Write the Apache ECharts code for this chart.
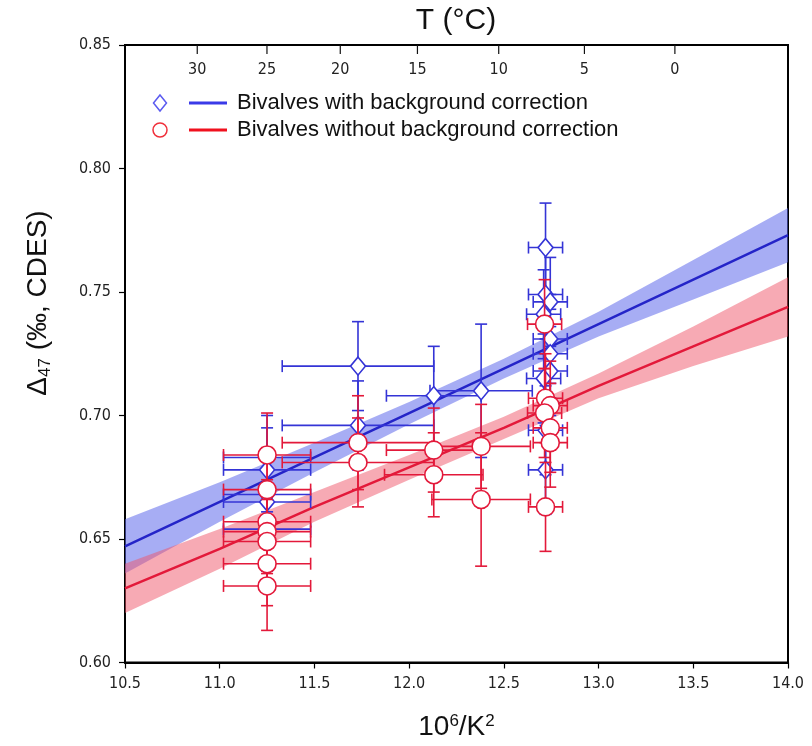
<!DOCTYPE html>
<html><head><meta charset="utf-8">
<script src="https://cdn.jsdelivr.net/npm/echarts@6/dist/echarts.min.js"></script>
<style>html,body{margin:0;padding:0;background:#fff}#c{width:812px;height:746px}</style>
</head><body><div id="c"></div>
<script>
// Top axis: temperature tick labels (°C)
const tempTicks = [30, 25, 20, 15, 10, 5, 0];

// Regression lines and confidence bands
const bandX   = [10.5, 11.0, 11.5, 12.0, 12.5, 13.0, 13.5, 14.0];
const blueFit = [0.647, 0.665, 0.683, 0.701, 0.719, 0.737, 0.755, 0.773];
const blueLo  = [0.636, 0.657, 0.677, 0.6965, 0.715, 0.732, 0.747, 0.762];
const blueHi  = [0.658, 0.673, 0.689, 0.7055, 0.723, 0.742, 0.763, 0.784];
const redFit  = [0.630, 0.646, 0.663, 0.679, 0.695, 0.712, 0.728, 0.744];
const redLo   = [0.620, 0.638, 0.657, 0.674, 0.6905, 0.707, 0.720, 0.732];
const redHi   = [0.640, 0.654, 0.669, 0.684, 0.6995, 0.717, 0.736, 0.756];

// Bivalves with background correction (diamonds)
const blueX    = [11.25, 11.25, 11.25, 11.25, 11.25, 11.73, 11.73, 12.13, 12.38, 12.72, 12.72, 12.745, 12.71, 12.745, 12.745, 12.745, 12.71, 12.72, 12.72];
const blueY    = [0.683, 0.678, 0.668, 0.665, 0.654, 0.720, 0.696, 0.708, 0.710, 0.768, 0.749, 0.746, 0.741, 0.731, 0.725, 0.718, 0.715, 0.694, 0.678];
const blueXErr = [0.23, 0.23, 0.23, 0.23, 0.23, 0.40, 0.40, 0.25, 0.27, 0.09, 0.09, 0.09, 0.09, 0.09, 0.09, 0.09, 0.09, 0.09, 0.09];
const blueYErr = [0.017, 0.017, 0.017, 0.017, 0.017, 0.018, 0.018, 0.020, 0.027, 0.018, 0.018, 0.018, 0.018, 0.018, 0.018, 0.018, 0.018, 0.018, 0.018];

// Bivalves without background correction (circles)
const redX    = [11.25, 11.25, 11.25, 11.25, 11.25, 11.25, 11.25, 11.73, 11.73, 12.13, 12.13, 12.38, 12.38, 12.715, 12.72, 12.745, 12.715, 12.745, 12.745, 12.72];
const redY    = [0.684, 0.670, 0.657, 0.653, 0.649, 0.640, 0.631, 0.689, 0.681, 0.686, 0.676, 0.6875, 0.666, 0.737, 0.707, 0.704, 0.701, 0.695, 0.689, 0.663];
const redXErr = [0.23, 0.23, 0.23, 0.23, 0.23, 0.23, 0.23, 0.40, 0.40, 0.25, 0.26, 0.26, 0.26, 0.09, 0.09, 0.09, 0.09, 0.09, 0.09, 0.09];
const redYErr = [0.017, 0.017, 0.017, 0.017, 0.017, 0.017, 0.018, 0.019, 0.018, 0.017, 0.017, 0.017, 0.027, 0.018, 0.018, 0.018, 0.018, 0.018, 0.018, 0.018];

const BLUE = '#2424c8', BLUE_PT = '#3434d6', RED = '#e3193a';
const BLUE_BAND = 'rgba(95,105,235,0.55)', RED_BAND = 'rgba(240,85,105,0.5)';
const Y_MAX = 0.85;
const TICK_FONT = 'DejaVu Sans Condensed, DejaVu Sans, sans-serif';
const TEXT_FONT = 'Liberation Sans, Arial, sans-serif';

function zip(a, b) { return a.map((v, i) => [v, b[i]]); }

function bandRender(lo, hi, color) {
  return function (params, api) {
    const pts = [];
    for (let i = 0; i < bandX.length; i++) pts.push(api.coord([bandX[i], hi[i]]));
    for (let i = bandX.length - 1; i >= 0; i--) pts.push(api.coord([bandX[i], lo[i]]));
    return { type: 'polygon', shape: { points: pts }, style: { fill: color } };
  };
}

function errRender(color) {
  return function (params, api) {
    const x = api.value(0), y = api.value(1), xe = api.value(2), ye = api.value(3);
    const t = api.coord([x, y + ye]), b = api.coord([x, y - ye]);
    const l = api.coord([x - xe, y]), r = api.coord([x + xe, y]);
    const cw = 6, ch = 6;
    const st = { stroke: color, lineWidth: 1.6 };
    const L = (x1, y1, x2, y2) => ({ type: 'line', shape: { x1, y1, x2, y2 }, style: st });
    return { type: 'group', children: [
      L(t[0], t[1], b[0], b[1]),
      L(t[0] - cw, t[1], t[0] + cw, t[1]),
      L(b[0] - cw, b[1], b[0] + cw, b[1]),
      L(l[0], l[1], r[0], r[1]),
      L(l[0], l[1] - ch, l[0], l[1] + ch),
      L(r[0], r[1] - ch, r[0], r[1] + ch)
    ]};
  };
}

function topTickRender(params, api) {
  const t = api.value(0);
  const k = t + 273.15;
  const p = api.coord([1e6 / (k * k), Y_MAX]);
  return { type: 'group', children: [
    { type: 'line', shape: { x1: p[0], y1: p[1], x2: p[0], y2: p[1] + 9 }, style: { stroke: '#111', lineWidth: 1.2 } },
    { type: 'text', x: p[0], y: p[1] + 25, style: { text: String(t), fill: '#222', font: '16px ' + TICK_FONT, align: 'center', verticalAlign: 'middle' } }
  ]};
}

const chart = echarts.init(document.getElementById('c'));
chart.setOption({
  animation: false,
  backgroundColor: '#fff',
  grid: { left: 125, right: 24, top: 45, bottom: 83, show: true, borderColor: '#000', borderWidth: 2, backgroundColor: 'transparent' },
  xAxis: {
    type: 'value', min: 10.5, max: 14.0, interval: 0.5,
    axisLine: { lineStyle: { color: '#000', width: 2 } },
    axisTick: { inside: false, length: 6, lineStyle: { color: '#000', width: 1.2 } },
    axisLabel: { formatter: v => v.toFixed(1), color: '#222', fontSize: 16, fontFamily: TICK_FONT, margin: 13 },
    splitLine: { show: false },
    name: '{a|10}{s|6}{a|/K}{s|2}', nameLocation: 'middle', nameGap: 50,
    nameTextStyle: { rich: { a: { fontSize: 28, fontFamily: TEXT_FONT, color: '#111' }, s: { fontSize: 17, fontFamily: TEXT_FONT, color: '#111', verticalAlign: 'top', padding: [0, 0, 12, 0] } } }
  },
  yAxis: {
    type: 'value', min: 0.60, max: 0.85, interval: 0.05,
    axisLine: { show: true, lineStyle: { color: '#000', width: 2 } },
    axisTick: { show: true, inside: false, length: 6, lineStyle: { color: '#000', width: 1.2 } },
    axisLabel: { formatter: v => v.toFixed(2), color: '#222', fontSize: 16, fontFamily: TICK_FONT, margin: 14 },
    splitLine: { show: false }
  },
  graphic: [
    { type: 'text', x: 456, y: 21, style: { text: 'T (°C)', font: '30px ' + TEXT_FONT, fill: '#111', align: 'center', verticalAlign: 'middle' } },
    { type: 'text', x: 38, y: 303, rotation: Math.PI / 2,
      style: { text: '{a|Δ}{s|47}{a| (‰, CDES)}', align: 'center', verticalAlign: 'middle',
        rich: { a: { fontSize: 28, fontFamily: TEXT_FONT, fill: '#111' }, s: { fontSize: 17, fontFamily: TEXT_FONT, fill: '#111', padding: [14, 0, 0, 0] } } } },
    // legend
    { type: 'polygon', shape: { points: [[160, 95], [166.5, 103], [160, 111], [153.5, 103]] }, style: { fill: '#fff', stroke: '#5a5af0', lineWidth: 1.5 } },
    { type: 'line', shape: { x1: 189, y1: 103, x2: 227, y2: 103 }, style: { stroke: '#3a3ae8', lineWidth: 3 } },
    { type: 'text', x: 237, y: 103, style: { text: 'Bivalves with background correction', font: '22px ' + TEXT_FONT, fill: '#111', verticalAlign: 'middle' } },
    { type: 'circle', shape: { cx: 160, cy: 130, r: 7 }, style: { fill: '#fff', stroke: '#f0303a', lineWidth: 1.5 } },
    { type: 'line', shape: { x1: 189, y1: 130, x2: 227, y2: 130 }, style: { stroke: '#f0101e', lineWidth: 3 } },
    { type: 'text', x: 237, y: 130, style: { text: 'Bivalves without background correction', font: '22px ' + TEXT_FONT, fill: '#111', verticalAlign: 'middle' } }
  ],
  series: [
    { type: 'custom', name: 'blueBand', data: [[12, 0.7]], renderItem: bandRender(blueLo, blueHi, BLUE_BAND), z: 1, silent: true },
    { type: 'custom', name: 'redBand', data: [[12, 0.7]], renderItem: bandRender(redLo, redHi, RED_BAND), z: 1, silent: true },
    { type: 'line', data: zip(bandX, blueFit), showSymbol: false, lineStyle: { color: BLUE, width: 2.5 }, z: 2 },
    { type: 'line', data: zip(bandX, redFit), showSymbol: false, lineStyle: { color: RED, width: 2.5 }, z: 2 },
    { type: 'custom', data: blueX.map((x, i) => [x, blueY[i], blueXErr[i], blueYErr[i]]), renderItem: errRender(BLUE_PT), z: 3 },
    { type: 'scatter', data: zip(blueX, blueY), symbol: 'diamond', symbolSize: [15, 18], itemStyle: { color: '#fff', opacity: 1, borderColor: BLUE_PT, borderWidth: 1.6 }, z: 4 },
    { type: 'custom', data: redX.map((x, i) => [x, redY[i], redXErr[i], redYErr[i]]), renderItem: errRender(RED), z: 5 },
    { type: 'scatter', data: zip(redX, redY), symbol: 'circle', symbolSize: 18, itemStyle: { color: '#fff', opacity: 1, borderColor: RED, borderWidth: 1.6 }, z: 6 },
    { type: 'custom', data: tempTicks.map(t => [t]), renderItem: topTickRender, z: 7, silent: true }
  ]
});
</script>
</body></html>
